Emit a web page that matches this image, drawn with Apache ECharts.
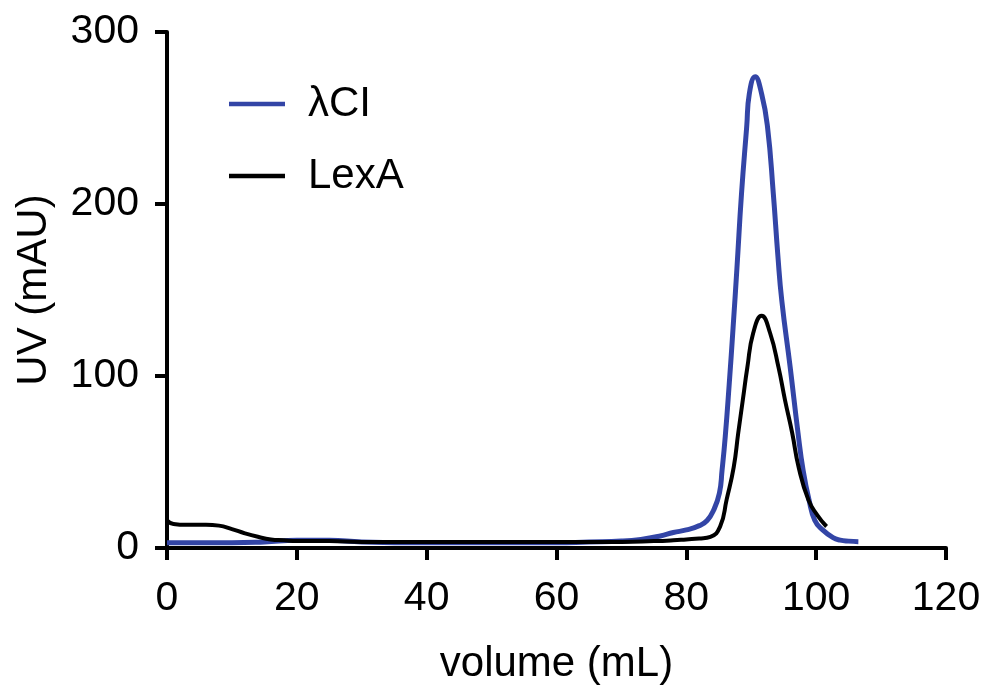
<!DOCTYPE html>
<html><head><meta charset="utf-8">
<script src="https://cdn.jsdelivr.net/npm/echarts@6/dist/echarts.min.js"></script>
<style>html,body{margin:0;padding:0;background:#fff}#c{width:988px;height:695px}</style>
</head><body><div id="c"></div>
<script>
const seriesNames = ['λCI', 'LexA'];
const xTicks = [0, 20, 40, 60, 80, 100, 120];
const yTicks = [0, 100, 200, 300];
const lambdaX = [0,5,10,15,20,25,30,40,50,60,65,70,73,76,78,80,82,83.2,84.2,85.1,85.5,86.0,86.6,87.2,87.8,88.5,89.3,89.7,90.6,91.6,92.5,93.4,94.1,94.7,96,97.2,98,98.9,99.8,101,102.6,103.7,105,106.5];
const lambdaY = [3,3,3,3.5,4.5,4.5,3.5,3,3,3,3.5,4,5,7,9,10.5,13,16,22,32,45,65,95,128,163,206,245,264,274,264,245,206,170,144,105,67,45,28,16,10.5,6,4.6,4,3.7];
const lexaX = [0,1,3,6,8,10,12,14,16,18,20,25,30,40,50,60,70,75,78,80,82,83.7,85.2,86.2,87.3,88,88.7,89.4,90.3,91.6,92.9,94.2,95.2,96.3,97.3,98.8,100.2,101.6];
const lexaY = [16,14,13.5,13.5,13,11,8.5,6.5,5,4.5,4,4,3.5,3.5,3.5,3.5,3.5,4,4.5,5,5.5,6.5,12.4,28,47,67,86,105,125,135,125,105,86,67,47,28,19,12.5];

const pair = (xs, ys) => xs.map((x, i) => [x, ys[i]]);
const font = 'Liberation Sans, Arial, sans-serif';
const chart = echarts.init(document.getElementById('c'), null, {renderer: 'canvas'});
chart.setOption({
  animation: false,
  backgroundColor: '#fff',
  grid: {left: 167, right: 42, top: 32, bottom: 147},
  legend: {
    orient: 'vertical', left: 224, top: 78, itemWidth: 56, itemHeight: 4.5, itemGap: 30,
    icon: 'rect',
    textStyle: {fontFamily: font, fontSize: 42, color: '#000', padding: [0,0,0,18]},
    data: seriesNames
  },
  xAxis: {
    type: 'value', min: 0, max: 120, interval: 20,
    name: 'volume (mL)', nameLocation: 'middle', nameGap: 95,
    nameTextStyle: {fontFamily: font, fontSize: 42, color: '#000'},
    axisLine: {show: true, lineStyle: {color: '#000', width: 4}},
    axisTick: {show: true, length: 12, lineStyle: {color: '#000', width: 4}},
    axisLabel: {fontFamily: font, fontSize: 41, color: '#000', margin: 30},
    splitLine: {show: false}
  },
  yAxis: {
    type: 'value', min: 0, max: 300, interval: 100,
    name: 'UV (mAU)', nameLocation: 'middle', nameGap: 112, nameRotate: 90,
    nameTextStyle: {fontFamily: font, fontSize: 42, color: '#000'},
    axisLine: {show: true, lineStyle: {color: '#000', width: 4}},
    axisTick: {show: true, length: 12, lineStyle: {color: '#000', width: 4}},
    axisLabel: {fontFamily: font, fontSize: 41, color: '#000', margin: 28},
    splitLine: {show: false}
  },
  series: [
    {name: seriesNames[0], type: 'line', data: pair(lambdaX, lambdaY), smooth: 0.5, showSymbol: false,
     lineStyle: {color: '#3345a6', width: 5}, itemStyle: {color: '#3345a6'}, z: 2},
    {name: seriesNames[1], type: 'line', data: pair(lexaX, lexaY), smooth: 0.5, showSymbol: false,
     lineStyle: {color: '#000', width: 4}, itemStyle: {color: '#000'}, z: 3}
  ]
});
</script></body></html>
